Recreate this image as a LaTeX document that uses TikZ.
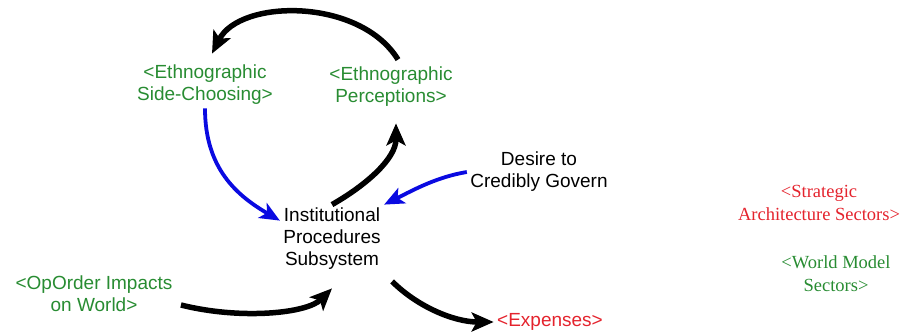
\documentclass[tikz,border=0pt]{standalone}
\usepackage{fontspec}
\setmainfont{Liberation Sans}
\newfontfamily\timesrm{Liberation Serif}
\usepackage{tikz}
\usepackage{xcolor}
\usetikzlibrary{arrows.meta}

\definecolor{shadowGreen}{RGB}{40,140,50}
\definecolor{shadowRed}{RGB}{228,35,45}
\definecolor{linkBlue}{RGB}{10,10,225}

\begin{document}
\begin{tikzpicture}[x=1pt,y=-1pt,
  every node/.style = {align=center, font=\fontsize{19}{22}\selectfont},
  shadow/.style = {text=shadowGreen},
  shadowred/.style = {text=shadowRed},
  serifnode/.style = {font=\timesrm\fontsize{18.5}{23}\selectfont},
  link/.style = {line width=5.5pt, -{Stealth[length=22pt,width=19pt,inset=5pt]}},
  bluelink/.style = {draw=linkBlue, line width=3.8pt, -{Stealth[length=20pt,width=17pt,inset=5pt]}}]
  \useasboundingbox (0,0) rectangle (919,332);

  % variables
  \node[shadow] (side) at (205,85) {<Ethnographic\\Side-Choosing>};
  \node[shadow] (perc) at (391,87) {<Ethnographic\\Perceptions>};
  \node (inst) at (332,239) {Institutional\\Procedures\\Subsystem};
  \node (desire) at (539,172) {Desire to\\Credibly Govern};
  \node[shadow] (opo) at (94,294) {<OpOrder Impacts\\on World>};
  \node[shadowred] (exp) at (550,322) {<Expenses>};

  % sector shadows on the right
  \node[shadowred, serifnode] (strat) at (819,203) {<Strategic\\Architecture Sectors>};
  \node[shadow, serifnode] (world) at (836,274) {<World Model\\Sectors>};

  % links
  \draw[link] ([xshift=7pt,yshift=4pt]perc.north) .. controls +(-38,-62) and +(28,-55) .. ([xshift=7pt,yshift=8pt]side.north);
  \draw[bluelink] (side.south) .. controls +(0,60) and +(-43,-25) .. ([yshift=-16pt]inst.north west);
  \draw[link] (inst.north) .. controls +(35,-20) and +(0,35) .. ([xshift=5pt,yshift=-13pt]perc.south);
  \draw[bluelink] (desire.west) .. controls +(-30,5) and +(30,-15) .. (inst.north east);
  \draw[link] ([xshift=5pt,yshift=-11pt]opo.east) .. controls +(60,15) and +(-25,25) .. ([yshift=-15pt]inst.south);
  \draw[link] ([xshift=8pt,yshift=-8pt]inst.south east) .. controls +(25,25) and +(-40,0) .. (exp.west);
\end{tikzpicture}
\end{document}
